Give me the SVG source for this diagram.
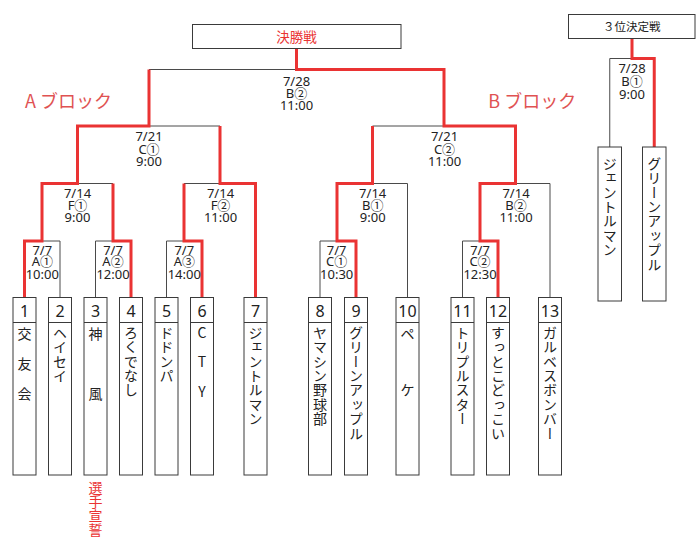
<svg xmlns="http://www.w3.org/2000/svg" width="700" height="545" viewBox="0 0 700 545">
<style>
text{font-family:"Noto Sans CJK JP","Noto Sans",sans-serif;fill:#222}
.lbl{font-family:"Noto Sans","Noto Sans CJK JP",sans-serif;font-size:13px;text-anchor:middle}
.num{font-family:"Noto Sans","Noto Sans CJK JP",sans-serif;font-size:16px;text-anchor:middle}
.nm{font-size:14px;writing-mode:vertical-rl;letter-spacing:0.4px}
.ch{font-size:14px;text-anchor:middle}
.box{fill:#fff;stroke:#3a3a3a;stroke-width:1}
.blk{fill:none;stroke:#4a4a4a;stroke-width:1}
.red{fill:none;stroke:#ea3333;stroke-width:3;stroke-linejoin:miter}
.rt{fill:#ea3333}
.blt{fill:#e05252;font-size:18px}
</style>
<rect width="700" height="545" fill="#fff"/>

<g id="connectors">
  <path class="blk" d="M24.5,241H60M95.5,241H131M166.5,241H202M320,241H356M462.5,241H498
    M42,183.5H113M184,183.5H255.5M337,183.5H407.5M480,183.5H550
    M77.5,126H220M372.5,126H515.5M149,69.5H444
    M60,297.5V241M95.5,297.5V241M166.5,297.5V241M320,297.5V241M462.5,297.5V241
    M407.5,297.5V183.5M550,297.5V183.5
    M609.75,58.5H654.25M609.75,147V58.5"/>
  <path class="red" d="M24.5,297.5V241H42V183.5H77.5V126H149V69.5"/>
  <path class="red" d="M131,297.5V241H113V183.5"/>
  <path class="red" d="M202,297.5V241H184V183.5"/>
  <path class="red" d="M255.5,297.5V183.5H220V126"/>
  <path class="red" d="M356,297.5V241H337V183.5H372.5V126"/>
  <path class="red" d="M296.5,48.5V69.5H444V126H515.5V183.5H480V241H498V297.5"/>
  <path class="red" d="M632,38.5V58.5H654.25V147"/>
</g>

<g id="final">
  <rect class="box" x="192.5" y="24.5" width="208.5" height="24"/>
  <text class="rt" x="296.5" y="41.7" font-size="13.5" text-anchor="middle">決勝戦</text>
</g>
<g id="third">
  <rect class="box" x="568.5" y="14.5" width="126.5" height="24"/>
  <text x="631.7" y="30.7" font-size="11.5" text-anchor="middle">３位決定戦</text>
</g>

<g id="block-labels">
  <text class="blt" x="25" y="108.3">A ブロック</text>
  <text class="blt" x="488.3" y="108.3">B ブロック</text>
</g>

<g id="match-labels">
  <text class="lbl"><tspan x="296.5" y="85.5">7/28</tspan><tspan x="296.5" y="97.8">B②</tspan><tspan x="296.5" y="110.2">11:00</tspan></text>
  <text class="lbl"><tspan x="149" y="141.2">7/21</tspan><tspan x="149" y="153.5">C①</tspan><tspan x="149" y="166">9:00</tspan></text>
  <text class="lbl"><tspan x="444.5" y="141.2">7/21</tspan><tspan x="444.5" y="153.5">C②</tspan><tspan x="444.5" y="166">11:00</tspan></text>
  <text class="lbl"><tspan x="77.5" y="197.8">7/14</tspan><tspan x="77.5" y="209.5">F①</tspan><tspan x="77.5" y="221.8">9:00</tspan></text>
  <text class="lbl"><tspan x="220.5" y="197.8">7/14</tspan><tspan x="220.5" y="209.5">F②</tspan><tspan x="220.5" y="221.8">11:00</tspan></text>
  <text class="lbl"><tspan x="372.7" y="197.8">7/14</tspan><tspan x="372.7" y="209.5">B①</tspan><tspan x="372.7" y="221.8">9:00</tspan></text>
  <text class="lbl"><tspan x="516" y="197.8">7/14</tspan><tspan x="516" y="209.5">B②</tspan><tspan x="516" y="221.8">11:00</tspan></text>
  <text class="lbl"><tspan x="42.3" y="254.5">7/7</tspan><tspan x="42.3" y="266.2">A①</tspan><tspan x="42.3" y="278.8">10:00</tspan></text>
  <text class="lbl"><tspan x="113" y="254.5">7/7</tspan><tspan x="113" y="266.2">A②</tspan><tspan x="113" y="278.8">12:00</tspan></text>
  <text class="lbl"><tspan x="184.3" y="254.5">7/7</tspan><tspan x="184.3" y="266.2">A③</tspan><tspan x="184.3" y="278.8">14:00</tspan></text>
  <text class="lbl"><tspan x="336.7" y="254.5">7/7</tspan><tspan x="336.7" y="266.2">C①</tspan><tspan x="336.7" y="278.8">10:30</tspan></text>
  <text class="lbl"><tspan x="480" y="254.5">7/7</tspan><tspan x="480" y="266.2">C②</tspan><tspan x="480" y="278.8">12:30</tspan></text>
  <text class="lbl"><tspan x="632" y="72.5">7/28</tspan><tspan x="632" y="85.5">B①</tspan><tspan x="632" y="98.5">9:00</tspan></text>
</g>

<g id="team1"><rect class="box" x="13" y="297.5" width="23" height="177.5"/><line class="box" x1="13" y1="322.5" x2="36" y2="322.5"/><text class="num" x="24.5" y="316.5">1</text>
  <text class="ch" x="24.5" y="338.6">交</text><text class="ch" x="24.5" y="369.3">友</text><text class="ch" x="24.5" y="398.6">会</text></g>
<g id="team2"><rect class="box" x="48.5" y="297.5" width="23" height="177.5"/><line class="box" x1="48.5" y1="322.5" x2="71.5" y2="322.5"/><text class="num" x="60" y="316.5">2</text>
  <text class="nm" x="60" y="325.5">ヘイセイ</text></g>
<g id="team3"><rect class="box" x="84" y="297.5" width="23" height="177.5"/><line class="box" x1="84" y1="322.5" x2="107" y2="322.5"/><text class="num" x="95.5" y="316.5">3</text>
  <text class="ch" x="95.5" y="338.6">神</text><text class="ch" x="95.5" y="398.6">風</text></g>
<g id="team4"><rect class="box" x="119.5" y="297.5" width="23" height="177.5"/><line class="box" x1="119.5" y1="322.5" x2="142.5" y2="322.5"/><text class="num" x="131" y="316.5">4</text>
  <text class="nm" x="131" y="325.5">ろくでなし</text></g>
<g id="team5"><rect class="box" x="155" y="297.5" width="23" height="177.5"/><line class="box" x1="155" y1="322.5" x2="178" y2="322.5"/><text class="num" x="166.5" y="316.5">5</text>
  <text class="nm" x="166.5" y="325.5">ドドンパ</text></g>
<g id="team6"><rect class="box" x="190.5" y="297.5" width="23" height="177.5"/><line class="box" x1="190.5" y1="322.5" x2="213.5" y2="322.5"/><text class="num" x="202" y="316.5">6</text>
  <text class="ch" x="202" y="338.3">C</text><text class="ch" x="202" y="367.3">T</text><text class="ch" x="202" y="397.3">Y</text></g>
<g id="team7"><rect class="box" x="244" y="297.5" width="23" height="177.5"/><line class="box" x1="244" y1="322.5" x2="267" y2="322.5"/><text class="num" x="255.5" y="316.5">7</text>
  <text class="nm" x="255.5" y="325.5">ジェントルマン</text></g>
<g id="team8"><rect class="box" x="308.5" y="297.5" width="23" height="177.5"/><line class="box" x1="308.5" y1="322.5" x2="331.5" y2="322.5"/><text class="num" x="320" y="316.5">8</text>
  <text class="nm" x="320" y="325.5">ヤマシン野球部</text></g>
<g id="team9"><rect class="box" x="344.5" y="297.5" width="23" height="177.5"/><line class="box" x1="344.5" y1="322.5" x2="367.5" y2="322.5"/><text class="num" x="356" y="316.5">9</text>
  <text class="nm" x="356" y="325.5">グリーンアップル</text></g>
<g id="team10"><rect class="box" x="396" y="297.5" width="23" height="177.5"/><line class="box" x1="396" y1="322.5" x2="419" y2="322.5"/><text class="num" x="407.5" y="316.5">10</text>
  <text class="ch" x="407.5" y="338.6">ペ</text><text class="ch" x="407.5" y="395.3">ケ</text></g>
<g id="team11"><rect class="box" x="451" y="297.5" width="23" height="177.5"/><line class="box" x1="451" y1="322.5" x2="474" y2="322.5"/><text class="num" x="462.5" y="316.5">11</text>
  <text class="nm" x="462.5" y="325.5">トリプルスター</text></g>
<g id="team12"><rect class="box" x="486.5" y="297.5" width="23" height="177.5"/><line class="box" x1="486.5" y1="322.5" x2="509.5" y2="322.5"/><text class="num" x="498" y="316.5">12</text>
  <text class="nm" x="498" y="325.5">すっとこどっこい</text></g>
<g id="team13"><rect class="box" x="538.5" y="297.5" width="23" height="177.5"/><line class="box" x1="538.5" y1="322.5" x2="561.5" y2="322.5"/><text class="num" x="550" y="316.5">13</text>
  <text class="nm" x="550" y="325.5">ガルベスボンバー</text></g>

<g id="third-left"><rect class="box" x="598" y="147" width="23.5" height="154"/>
  <text class="nm" x="609.75" y="156.5">ジェントルマン</text></g>
<g id="third-right"><rect class="box" x="642.5" y="147" width="23.5" height="154"/>
  <text class="nm" x="654.25" y="156.5">グリーンアップル</text></g>

<g id="oath">
  <text class="ch rt" x="95.5" y="492.5">選</text>
  <text class="ch rt" x="95.5" y="506.8">手</text>
  <text class="ch rt" x="95.5" y="521">宣</text>
  <text class="ch rt" x="95.5" y="535.3">誓</text>
</g>
</svg>
